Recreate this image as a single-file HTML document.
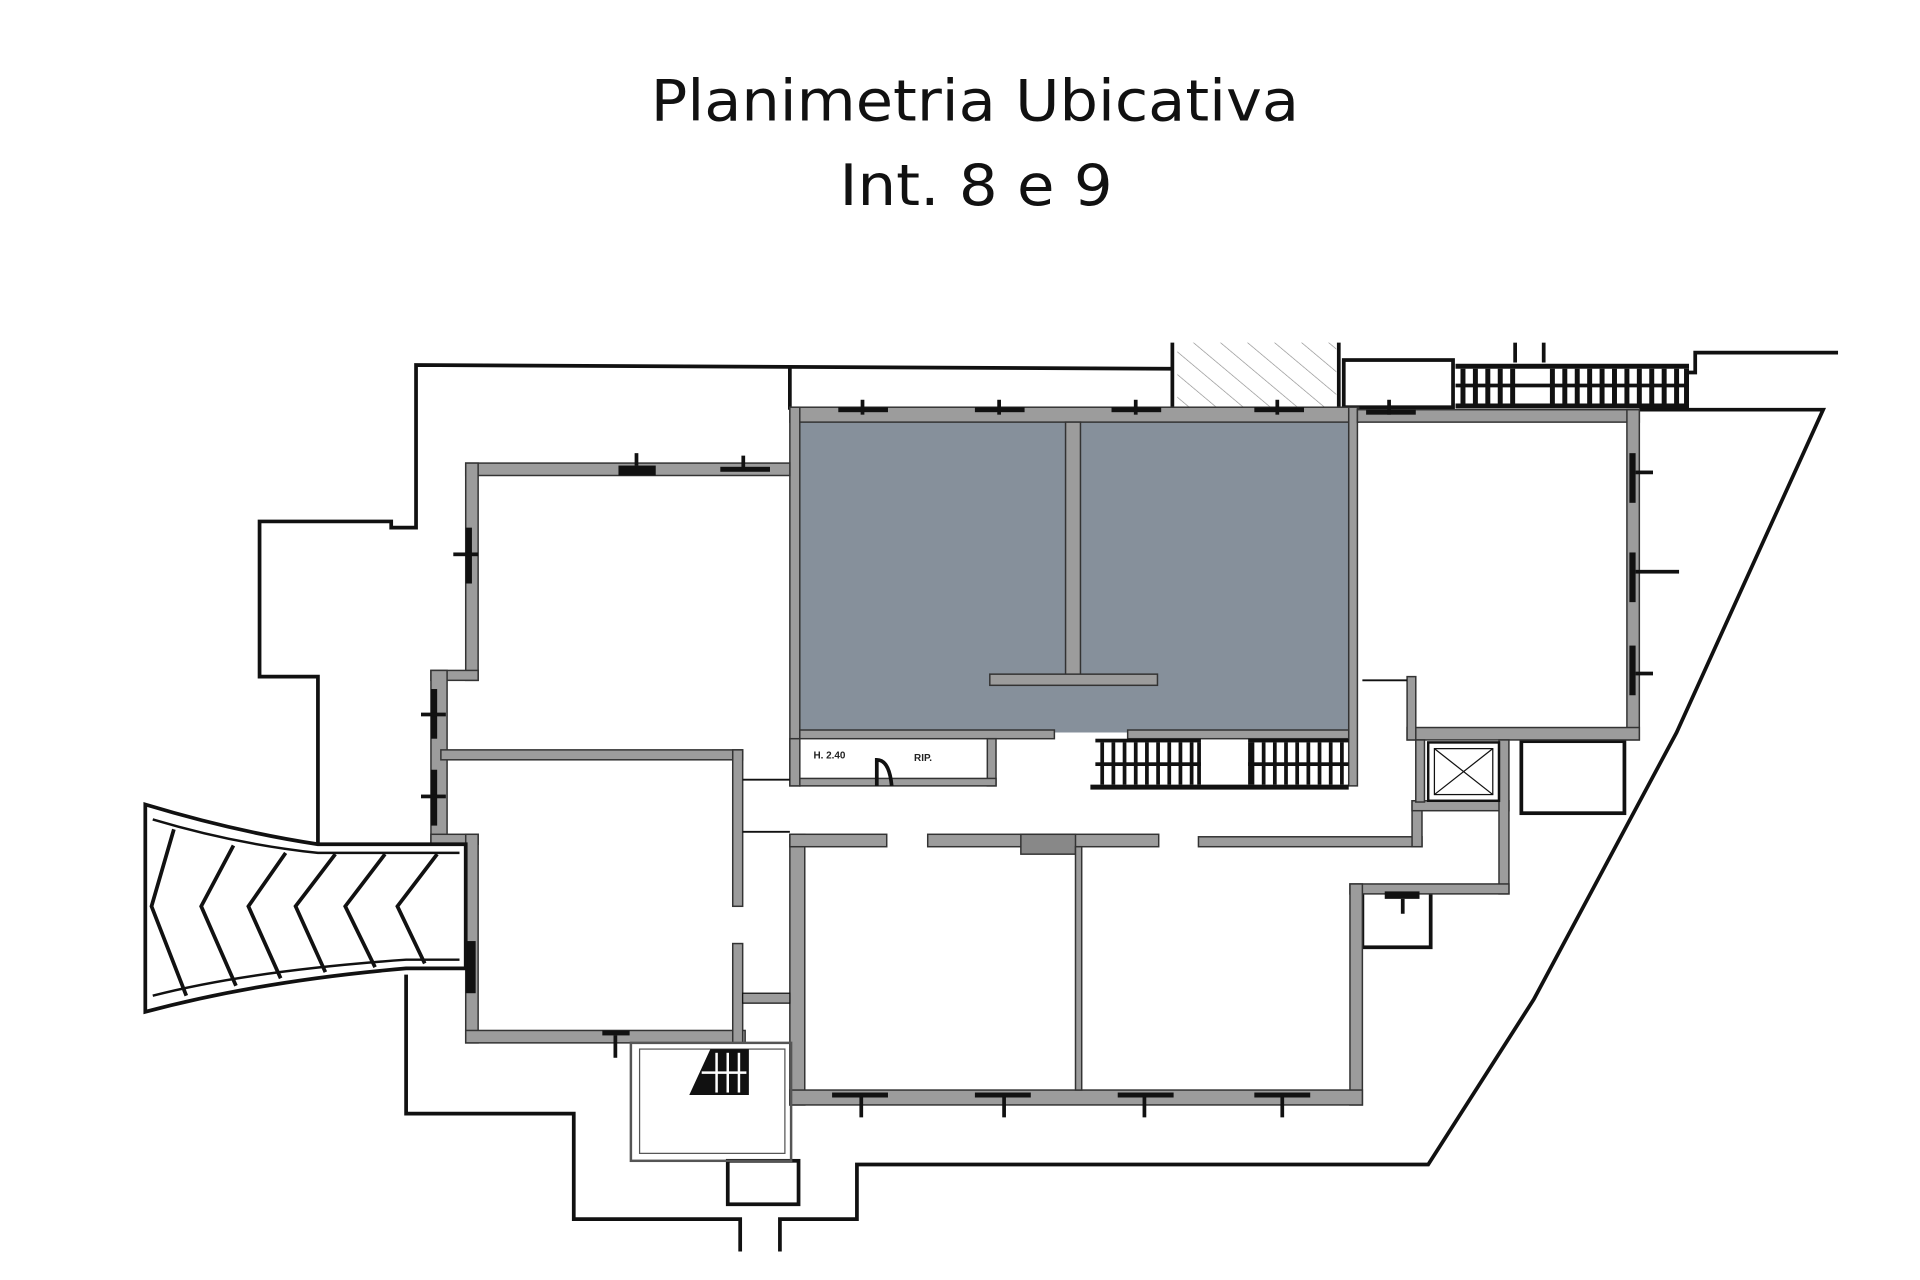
<!DOCTYPE html>
<html><head><meta charset="utf-8"><style>
html,body{margin:0;padding:0;background:#fff;width:1920px;height:1280px;overflow:hidden}
svg{display:block}
</style></head><body>
<svg width="1920" height="1280" viewBox="0 0 1546 1031" preserveAspectRatio="none" xmlns="http://www.w3.org/2000/svg">
<defs>
<pattern id="hat" width="14" height="14" patternUnits="userSpaceOnUse" patternTransform="rotate(-50)">
<line x1="0" y1="0" x2="0" y2="14" stroke="#888" stroke-width="1"/></pattern>
</defs>
<rect width="1546" height="1031" fill="#fff"/>
<text x="785" y="97" text-anchor="middle" font-family="DejaVu Sans, Liberation Sans, sans-serif" font-size="46" textLength="522" lengthAdjust="spacingAndGlyphs" fill="#111">Planimetria Ubicativa</text>
<text x="786" y="165" text-anchor="middle" font-family="DejaVu Sans, Liberation Sans, sans-serif" font-size="46" textLength="220" lengthAdjust="spacingAndGlyphs" fill="#111">Int. 8 e 9</text>

<g fill="none" stroke="#111" stroke-width="3">
<polyline points="256,680 256,545 209,545 209,420 315,420 315,425 335,425 335,294 944,297"/>
<line x1="636" y1="296" x2="636" y2="330"/>
<line x1="944" y1="276" x2="944" y2="330"/>
<polyline points="1078,276 1078,330"/>
<rect x="1082" y="290" width="88" height="38"/>
<polyline points="1360,300 1365,300 1365,284 1480,284"/>
<polyline points="1320,330 1468,330 1350,590 1235,805 1150,938 690,938 690,982 628,982 628,1008"/>
<polyline points="327,785 327,897 462,897 462,982 596,982 596,1008"/>
<rect x="586" y="935" width="57" height="35"/>
<rect x="1225" y="597" width="83" height="58"/>
<rect x="1097" y="718" width="55" height="45"/>
</g>
<rect x="948" y="276" width="128" height="52" fill="url(#hat)"/>
<line x1="1220" y1="276" x2="1220" y2="292" stroke="#111" stroke-width="3"/>
<line x1="1243" y1="276" x2="1243" y2="292" stroke="#111" stroke-width="3"/>
<g fill="#111">
<rect x="1172" y="293" width="188" height="4"/><rect x="1172" y="325" width="188" height="4"/>
<rect x="1172" y="309" width="188" height="3"/>
<rect x="1176" y="297" width="4" height="28"/><rect x="1186" y="297" width="4" height="28"/><rect x="1196" y="297" width="4" height="28"/><rect x="1206" y="297" width="4" height="28"/><rect x="1216" y="297" width="4" height="28"/><rect x="1248" y="297" width="4" height="28"/><rect x="1258" y="297" width="4" height="28"/><rect x="1268" y="297" width="4" height="28"/><rect x="1278" y="297" width="4" height="28"/><rect x="1288" y="297" width="4" height="28"/><rect x="1298" y="297" width="4" height="28"/><rect x="1308" y="297" width="4" height="28"/><rect x="1318" y="297" width="4" height="28"/><rect x="1328" y="297" width="4" height="28"/><rect x="1338" y="297" width="4" height="28"/><rect x="1348" y="297" width="4" height="28"/><rect x="1356" y="297" width="4" height="28"/>
</g>

<!-- grey units -->
<rect x="644" y="340" width="442" height="250" fill="#86909b"/>

<g fill="#9c9c9c" stroke="#333" stroke-width="1.2">
<rect x="636" y="328" width="458" height="12"/>
<rect x="636" y="328" width="8" height="305"/>
<rect x="1086" y="328" width="7" height="305"/>
<rect x="858" y="340" width="12" height="205"/>
<rect x="797" y="543" width="135" height="9"/>
<rect x="644" y="588" width="205" height="7"/>
<rect x="908" y="588" width="178" height="7"/>
<rect x="1093" y="330" width="227" height="10"/>
<rect x="1310" y="330" width="10" height="266"/>
<rect x="1133" y="586" width="187" height="10"/>
<rect x="1133" y="545" width="7" height="51"/>
<rect x="375" y="373" width="261" height="10"/>
<rect x="375" y="373" width="10" height="175"/>
<rect x="347" y="540" width="38" height="8"/>
<rect x="347" y="540" width="13" height="140"/>
<rect x="355" y="604" width="243" height="8"/>
<rect x="347" y="672" width="38" height="8"/>
<rect x="375" y="672" width="10" height="168"/>
<rect x="375" y="830" width="225" height="10"/>
<rect x="590" y="604" width="8" height="126"/>
<rect x="590" y="760" width="8" height="80"/>
<rect x="636" y="672" width="12" height="218"/>
<rect x="636" y="672" width="78" height="10"/>
<rect x="747" y="672" width="186" height="10"/>
<rect x="822" y="672" width="44" height="16" fill="#888"/>
<rect x="965" y="674" width="180" height="8"/>
<rect x="1137" y="645" width="8" height="37"/>
<rect x="1137" y="645" width="78" height="8"/>
<rect x="1207" y="596" width="8" height="124"/>
<rect x="1087" y="712" width="128" height="8"/>
<rect x="1087" y="712" width="10" height="178"/>
<rect x="636" y="878" width="461" height="12"/>
<rect x="866" y="682" width="5" height="196"/>
<rect x="795" y="595" width="7" height="38"/>
<rect x="644" y="627" width="158" height="6"/>
<rect x="636" y="595" width="8" height="38"/>
<rect x="1140" y="596" width="7" height="50"/>
</g>
<line x1="598" y1="628" x2="636" y2="628" stroke="#111" stroke-width="1.5"/>
<line x1="598" y1="670" x2="636" y2="670" stroke="#111" stroke-width="1.5"/>
<line x1="1097" y1="548" x2="1133" y2="548" stroke="#111" stroke-width="1.5"/>
<text x="655" y="611" font-family="Liberation Sans, sans-serif" font-size="8" font-weight="bold" fill="#222">H. 2.40</text>
<text x="736" y="613" font-family="Liberation Sans, sans-serif" font-size="8" font-weight="bold" fill="#222">RIP.</text>
<path d="M706 633 V612 Q716 612 718 633" fill="none" stroke="#111" stroke-width="3"/>

<g fill="#111">
<rect x="882" y="595" width="85" height="3"/><rect x="882" y="614" width="85" height="3"/><rect x="878" y="632" width="208" height="4"/>
<rect x="1005" y="595" width="81" height="3"/><rect x="1005" y="614" width="81" height="3"/>
<rect x="886" y="598" width="3" height="34"/><rect x="895" y="598" width="3" height="34"/><rect x="904" y="598" width="3" height="34"/><rect x="913" y="598" width="3" height="34"/><rect x="922" y="598" width="3" height="34"/><rect x="931" y="598" width="3" height="34"/><rect x="940" y="598" width="3" height="34"/><rect x="949" y="598" width="3" height="34"/><rect x="958" y="598" width="3" height="34"/><rect x="964" y="598" width="3" height="34"/>
<rect x="1005" y="598" width="5" height="34"/><rect x="1016" y="598" width="3" height="34"/><rect x="1025" y="598" width="3" height="34"/><rect x="1034" y="598" width="3" height="34"/><rect x="1043" y="598" width="3" height="34"/><rect x="1052" y="598" width="3" height="34"/><rect x="1061" y="598" width="3" height="34"/><rect x="1070" y="598" width="3" height="34"/><rect x="1079" y="598" width="3" height="34"/>
</g>

<rect x="1150" y="598" width="57" height="47" fill="none" stroke="#111" stroke-width="2"/>
<rect x="1155" y="603" width="47" height="37" fill="none" stroke="#111" stroke-width="1"/>
<line x1="1155" y1="603" x2="1202" y2="640" stroke="#111"/><line x1="1202" y1="603" x2="1155" y2="640" stroke="#111"/>

<rect x="508" y="840" width="129" height="95" fill="none" stroke="#555" stroke-width="2"/>
<rect x="515" y="845" width="117" height="84" fill="none" stroke="#555" stroke-width="1"/>
<polygon points="555,882 572,845 603,845 603,882" fill="#111"/>
<g stroke="#fff" stroke-width="2"><line x1="577" y1="848" x2="577" y2="880"/><line x1="586" y1="848" x2="586" y2="880"/><line x1="595" y1="848" x2="595" y2="880"/><line x1="565" y1="864" x2="601" y2="864"/></g>
<rect x="598" y="800" width="38" height="8" fill="#9c9c9c" stroke="#111"/>

<g fill="#111">
<rect x="675" y="328" width="40" height="4"/><rect x="693" y="322" width="3" height="12"/>
<rect x="785" y="328" width="40" height="4"/><rect x="803" y="322" width="3" height="12"/>
<rect x="895" y="328" width="40" height="4"/><rect x="913" y="322" width="3" height="12"/>
<rect x="1010" y="328" width="40" height="4"/><rect x="1027" y="322" width="3" height="12"/>
<rect x="1100" y="330" width="40" height="4"/><rect x="1117" y="322" width="3" height="12"/>
<rect x="498" y="375" width="30" height="8"/><rect x="511" y="365" width="3" height="10"/>
<rect x="580" y="376" width="40" height="4"/><rect x="597" y="367" width="3" height="12"/>
<rect x="375" y="425" width="5" height="45"/><rect x="365" y="445" width="20" height="3"/>
<rect x="347" y="555" width="5" height="40"/><rect x="339" y="574" width="20" height="3"/>
<rect x="347" y="620" width="5" height="45"/><rect x="339" y="640" width="20" height="3"/>
<rect x="375" y="758" width="8" height="42"/>
<rect x="485" y="830" width="22" height="4"/><rect x="494" y="834" width="3" height="18"/>
<rect x="1312" y="365" width="5" height="40"/><rect x="1317" y="379" width="14" height="3"/>
<rect x="1312" y="445" width="5" height="40"/><rect x="1317" y="459" width="35" height="3"/>
<rect x="1312" y="520" width="5" height="40"/><rect x="1317" y="541" width="14" height="3"/>
<rect x="670" y="880" width="45" height="4"/><rect x="692" y="884" width="3" height="16"/>
<rect x="785" y="880" width="45" height="4"/><rect x="807" y="884" width="3" height="16"/>
<rect x="900" y="880" width="45" height="4"/><rect x="920" y="884" width="3" height="16"/>
<rect x="1010" y="880" width="45" height="4"/><rect x="1031" y="884" width="3" height="16"/>
<rect x="1115" y="718" width="28" height="6"/><rect x="1128" y="724" width="3" height="12"/>
</g>

<g fill="none" stroke="#111" stroke-width="3">
<path d="M117 648 Q190 670 256 680 L375 680 L375 780 L327 780 Q210 790 117 815 Z"/>
<path d="M123 660 Q190 680 256 687 L370 687" stroke-width="2"/>
<path d="M123 802 Q200 782 327 773 L370 773" stroke-width="2"/>
<path d="M140 668 L122 730 L150 802"/>
<path d="M188 681 L162 730 L190 794"/>
<path d="M230 687 L200 730 L226 788"/>
<path d="M270 688 L238 730 L262 783"/>
<path d="M310 688 L278 730 L302 779"/>
<path d="M352 688 L320 730 L342 776"/>
</g>
</svg>
</body></html>
